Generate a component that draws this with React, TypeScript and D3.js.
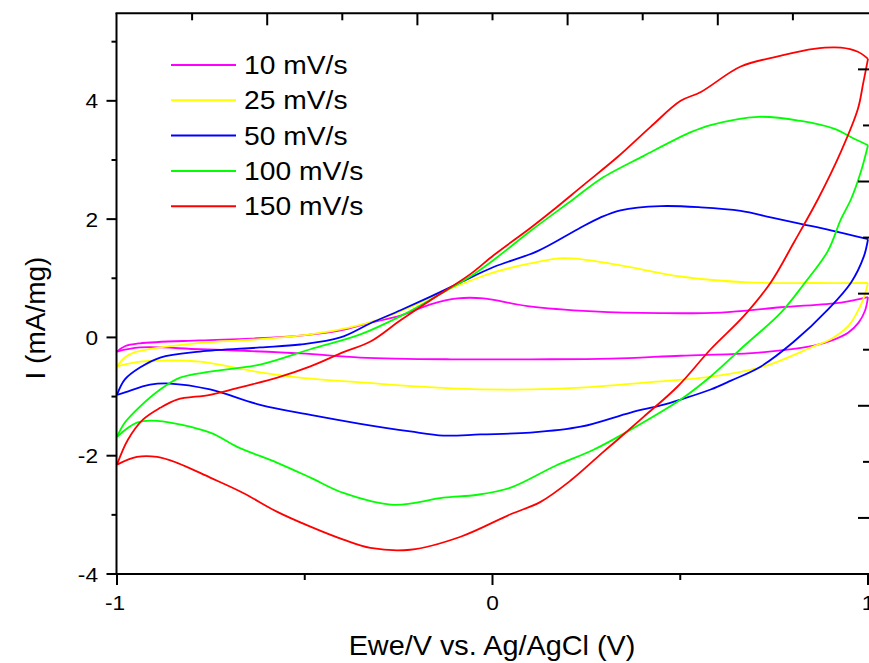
import React from "react";
import * as d3 from "d3";

type Pt = [number, number];

// Cyclic voltammograms: potential (V vs Ag/AgCl), current density (mA/mg)
// Each scan rate: forward sweep (-1 → 1) and the return sweep (1 → -1)
const cv10Forward: Pt[] = [[-1.0,-0.24],[-0.979,-0.15],[-0.939,-0.10],[-0.779,-0.05],[-0.645,-0.02],[-0.512,0.03],[-0.405,0.12],[-0.325,0.25],[-0.245,0.37],[-0.165,0.56],[-0.093,0.66],[-0.024,0.66],[0.093,0.53],[0.269,0.44],[0.448,0.41],[0.608,0.42],[0.768,0.51],[0.928,0.59],[1.0,0.68]];
const cv10Reverse: Pt[] = [[1.0,0.68],[0.992,0.45],[0.975,0.25],[0.947,0.08],[0.9,-0.06],[0.856,-0.14],[0.768,-0.22],[0.68,-0.27],[0.501,-0.31],[0.315,-0.36],[0.101,-0.37],[-0.112,-0.37],[-0.352,-0.34],[-0.512,-0.27],[-0.779,-0.20],[-0.939,-0.17],[-1.0,-0.24]];

const cv25Forward: Pt[] = [[-1.0,-0.49],[-0.979,-0.34],[-0.952,-0.25],[-0.885,-0.17],[-0.752,-0.08],[-0.619,-0.03],[-0.485,0.05],[-0.379,0.17],[-0.299,0.31],[-0.219,0.51],[-0.139,0.76],[-0.059,0.96],[0.003,1.10],[0.101,1.25],[0.189,1.34],[0.323,1.24],[0.501,1.03],[0.68,0.93],[0.856,0.92],[1.0,0.92]];
const cv25Reverse: Pt[] = [[1.0,0.92],[0.987,0.64],[0.968,0.39],[0.947,0.19],[0.901,-0.03],[0.856,-0.15],[0.723,-0.49],[0.589,-0.66],[0.413,-0.76],[0.235,-0.85],[0.101,-0.88],[-0.112,-0.86],[-0.352,-0.76],[-0.512,-0.68],[-0.619,-0.59],[-0.779,-0.41],[-0.859,-0.39],[-0.939,-0.41],[-1.0,-0.49]];

const cv50Forward: Pt[] = [[-1.0,-0.97],[-0.979,-0.71],[-0.939,-0.51],[-0.885,-0.34],[-0.779,-0.24],[-0.619,-0.17],[-0.512,-0.12],[-0.405,0.0],[-0.325,0.24],[-0.245,0.46],[-0.165,0.69],[-0.085,0.93],[0.003,1.19],[0.12,1.46],[0.227,1.83],[0.288,2.03],[0.341,2.15],[0.448,2.22],[0.555,2.20],[0.661,2.14],[0.741,2.03],[0.821,1.92],[0.901,1.81],[1.0,1.66]];
const cv50Reverse: Pt[] = [[1.0,1.66],[0.989,1.37],[0.955,0.93],[0.893,0.47],[0.803,-0.07],[0.715,-0.49],[0.635,-0.73],[0.581,-0.88],[0.501,-1.05],[0.448,-1.15],[0.368,-1.27],[0.235,-1.51],[0.101,-1.61],[-0.032,-1.64],[-0.131,-1.66],[-0.219,-1.59],[-0.352,-1.46],[-0.485,-1.31],[-0.619,-1.14],[-0.752,-0.88],[-0.859,-0.78],[-0.912,-0.80],[-0.979,-0.93],[-1.0,-0.97]];

const cv100Forward: Pt[] = [[-1.0,-1.68],[-0.979,-1.44],[-0.939,-1.17],[-0.885,-0.88],[-0.832,-0.68],[-0.752,-0.58],[-0.619,-0.46],[-0.485,-0.20],[-0.352,0.05],[-0.245,0.36],[-0.165,0.64],[-0.059,1.03],[0.003,1.31],[0.101,1.80],[0.216,2.34],[0.288,2.68],[0.403,3.07],[0.528,3.47],[0.581,3.59],[0.707,3.73],[0.821,3.66],[0.909,3.53],[0.963,3.36],[1.0,3.25]];
const cv100Reverse: Pt[] = [[1.0,3.25],[0.981,2.80],[0.955,2.34],[0.928,2.00],[0.893,1.46],[0.829,0.90],[0.768,0.42],[0.669,-0.15],[0.581,-0.66],[0.501,-1.05],[0.368,-1.56],[0.269,-1.90],[0.168,-2.17],[0.048,-2.54],[-0.040,-2.66],[-0.131,-2.71],[-0.264,-2.83],[-0.397,-2.63],[-0.485,-2.37],[-0.573,-2.12],[-0.680,-1.85],[-0.752,-1.61],[-0.893,-1.41],[-0.947,-1.44],[-1.0,-1.68]];

const cv150Forward: Pt[] = [[-1.0,-2.15],[-0.971,-1.73],[-0.931,-1.39],[-0.885,-1.19],[-0.840,-1.05],[-0.752,-0.97],[-0.664,-0.83],[-0.573,-0.68],[-0.485,-0.49],[-0.397,-0.25],[-0.325,-0.07],[-0.245,0.29],[-0.165,0.63],[-0.059,1.07],[0.003,1.39],[0.101,1.85],[0.155,2.12],[0.243,2.58],[0.333,3.05],[0.421,3.56],[0.501,4.00],[0.555,4.15],[0.661,4.58],[0.760,4.75],[0.856,4.88],[0.928,4.90],[0.973,4.83],[1.0,4.71]];
const cv150Reverse: Pt[] = [[1.0,4.71],[0.987,4.29],[0.973,3.86],[0.928,3.14],[0.867,2.34],[0.803,1.61],[0.741,0.93],[0.669,0.36],[0.581,-0.20],[0.493,-0.83],[0.403,-1.34],[0.333,-1.73],[0.296,-1.93],[0.208,-2.42],[0.128,-2.78],[0.048,-2.99],[-0.085,-3.37],[-0.219,-3.59],[-0.325,-3.56],[-0.397,-3.42],[-0.485,-3.20],[-0.573,-2.95],[-0.664,-2.63],[-0.752,-2.37],[-0.840,-2.12],[-0.893,-2.02],[-0.947,-2.02],[-1.0,-2.15]];

const seriesLabels = ["10 mV/s", "25 mV/s", "50 mV/s", "100 mV/s", "150 mV/s"];
const seriesColors = ["#ff00ff", "#ffff00", "#0000ff", "#00ff00", "#ff0000"];
const seriesSweeps: Pt[][][] = [
  [cv10Forward, cv10Reverse],
  [cv25Forward, cv25Reverse],
  [cv50Forward, cv50Reverse],
  [cv100Forward, cv100Reverse],
  [cv150Forward, cv150Reverse],
];

const xMajorTicks = [-1, 0, 1];
const xMinorTicks = [-0.5, 0.5];
const yMajorTicks = [-4, -2, 0, 2, 4];
const yMinorTicks = [-3, -1, 1, 3, 5];

const W = 869;
const H = 663;
const FONT = "'Liberation Sans', Arial, Helvetica, sans-serif";

export default function App() {
  const x = d3.scaleLinear().domain([-1, 1]).range([117, 868]);
  const y = d3.scaleLinear().domain([-4, 5.48]).range([574, 13.3]);
  // secondary scales for the top and right frame ticks
  const xTop = d3.scaleLinear().domain([0, 10]).range([117, 868]);
  const yRight = d3.scaleLinear().domain([0, 10]).range([574, 13.3]);

  const line = d3
    .line<Pt>()
    .x((d) => x(d[0]))
    .y((d) => y(d[1]))
    .curve(d3.curveCatmullRom.alpha(0.5));

  const left = 116.5;
  const bottom = 574;
  const top = 13.3;
  const right = 872;

  const stretched = (tx: number, ty: number, sx: number) => `translate(${tx},${ty}) scale(${sx},1)`;

  return (
    <svg
      width={W}
      height={H}
      style={{ position: "absolute", left: 0, top: 0, background: "#fff" }}
      fontFamily={FONT}
    >
      <rect x={0} y={0} width={W} height={H} fill="#fff" />

      {/* data sweeps */}
      <g fill="none" strokeWidth={1.8} strokeLinejoin="round">
        {seriesSweeps.map((sweeps, i) =>
          sweeps.map((pts, j) => (
            <path key={i + "-" + j} d={line(pts) ?? ""} stroke={seriesColors[i]} />
          ))
        )}
      </g>

      {/* frame */}
      <g stroke="#000" strokeWidth={2} fill="none">
        <line x1={left} y1={top} x2={left} y2={bottom + 1} />
        <line x1={left - 1} y1={bottom} x2={right} y2={bottom} />
        <line x1={left - 1} y1={top} x2={right} y2={top} />
        <line x1={right} y1={top} x2={right} y2={bottom} />
      </g>

      {/* ticks */}
      <g stroke="#000" strokeWidth={2}>
        {yMajorTicks.map((t) => (
          <line key={"ym" + t} x1={left - 10} x2={left} y1={y(t)} y2={y(t)} />
        ))}
        {yMinorTicks.map((t) => (
          <line key={"yn" + t} x1={left - 5} x2={left} y1={y(t)} y2={y(t)} />
        ))}
        {xMajorTicks.map((t) => (
          <line key={"xm" + t} x1={x(t)} x2={x(t)} y1={bottom} y2={bottom + 11} />
        ))}
        {xMinorTicks.map((t) => (
          <line key={"xn" + t} x1={x(t)} x2={x(t)} y1={bottom} y2={bottom + 6} />
        ))}
        {d3.range(1, 10).map((k) => (
          <line key={"xt" + k} x1={xTop(k)} x2={xTop(k)} y1={top} y2={top + (k % 2 === 0 ? 12 : 7)} />
        ))}
        {d3.range(1, 10).map((k) => (
          <line key={"yr" + k} x1={right - (k % 2 === 1 ? 14 : 9)} x2={right} y1={yRight(k)} y2={yRight(k)} />
        ))}
      </g>

      {/* tick labels */}
      <g fontSize={21} fill="#000">
        {yMajorTicks.map((t) => (
          <g key={"yl" + t} transform={stretched(98, y(t) + 7.5, 1.08)}>
            <text textAnchor="end">{t}</text>
          </g>
        ))}
        {xMajorTicks.map((t) => (
          <g key={"xl" + t} transform={stretched(x(t) - (t < 0 ? 2 : 0), 610, 1.08)}>
            <text textAnchor="middle">{t}</text>
          </g>
        ))}
      </g>

      {/* axis titles */}
      <g transform={stretched(492, 655, 1.03)}>
        <text fontSize={28} textAnchor="middle" fill="#000">
          Ewe/V vs. Ag/AgCl (V)
        </text>
      </g>
      <text
        transform={`translate(45,318) rotate(-90)`}
        fontSize={28}
        textAnchor="middle"
        fill="#000"
      >
        I (mA/mg)
      </text>

      {/* legend */}
      <g>
        {seriesLabels.map((label, i) => {
          const ly = 65 + i * 35.3;
          return (
            <g key={label}>
              <line x1={171} x2={236} y1={ly} y2={ly} stroke={seriesColors[i]} strokeWidth={2} />
              <g transform={stretched(244, ly + 9, 1.13)}>
                <text fontSize={25} fill="#000">
                  {label}
                </text>
              </g>
            </g>
          );
        })}
      </g>
    </svg>
  );
}
